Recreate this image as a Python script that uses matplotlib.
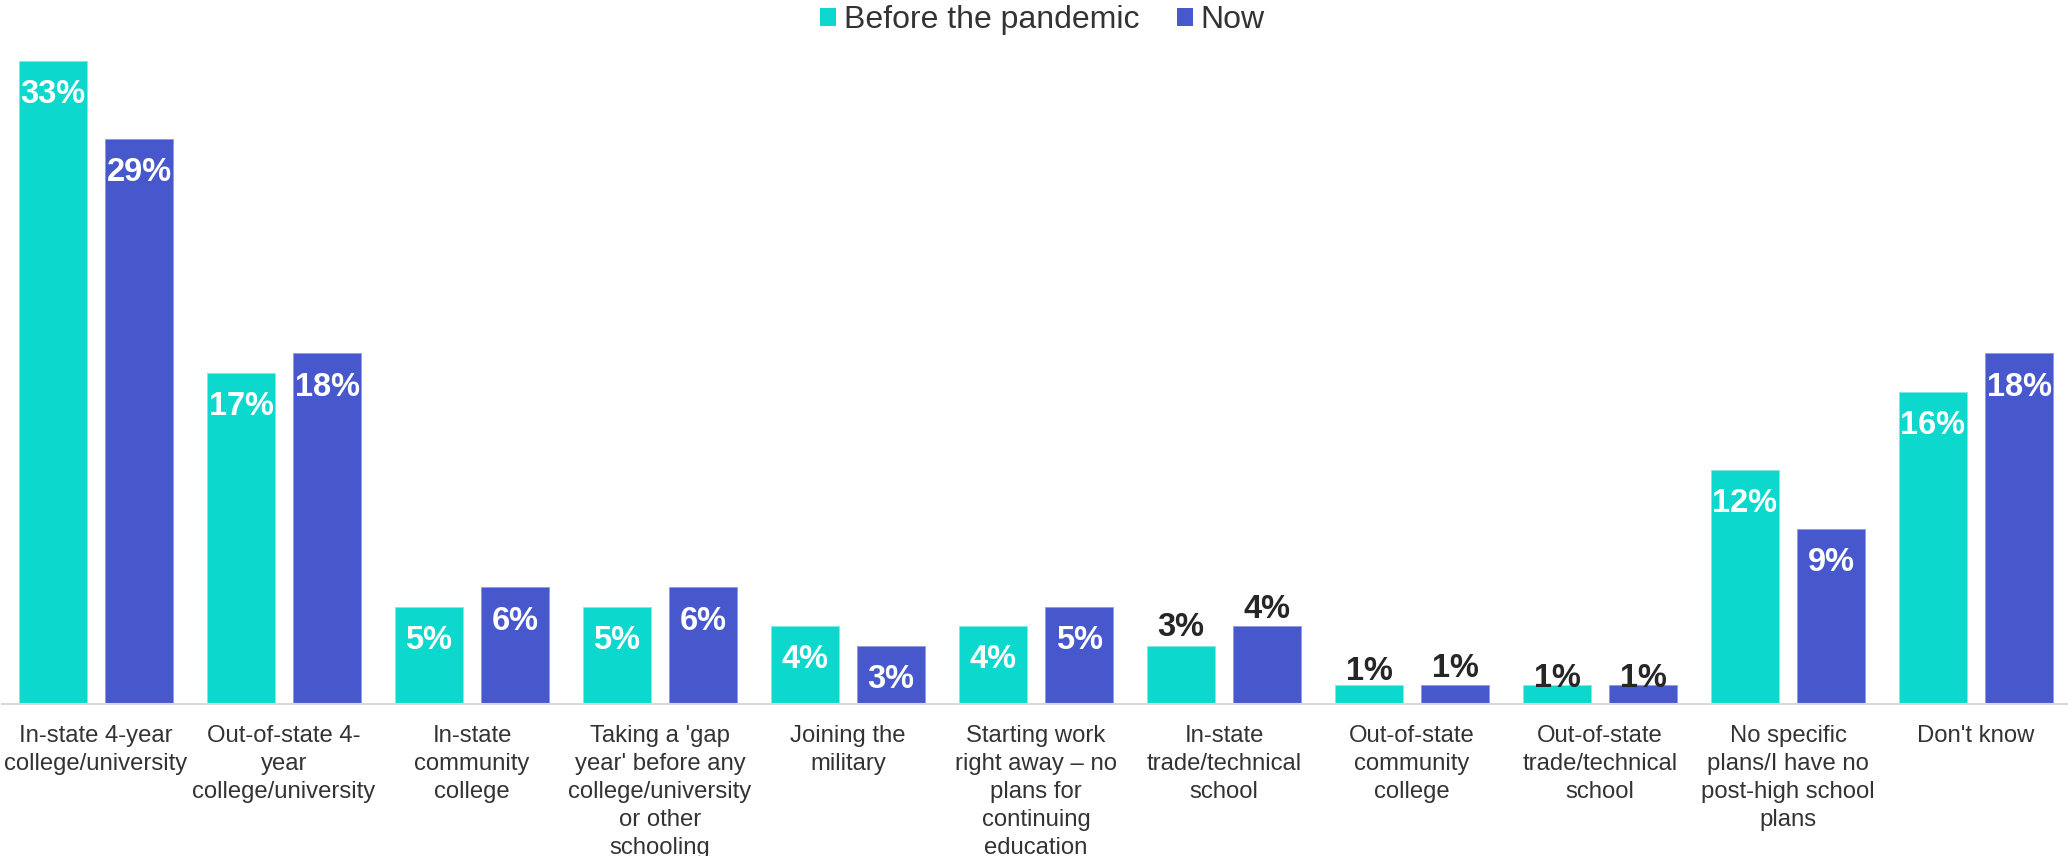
import matplotlib
matplotlib.use("Agg")
import matplotlib.pyplot as plt
import numpy as np
from matplotlib.patches import Patch

categories = [
    "In-state 4-year\ncollege/university",
    "Out-of-state 4-\nyear\ncollege/university",
    "In-state\ncommunity\ncollege",
    "Taking a 'gap\nyear' before any\ncollege/university\nor other\nschooling",
    "Joining the\nmilitary",
    "Starting work\nright away – no\nplans for\ncontinuing\neducation",
    "In-state\ntrade/technical\nschool",
    "Out-of-state\ncommunity\ncollege",
    "Out-of-state\ntrade/technical\nschool",
    "No specific\nplans/I have no\npost-high school\nplans",
    "Don't know",
]
before = [33, 17, 5, 5, 4, 4, 3, 1, 1, 12, 16]
now = [29, 18, 6, 6, 3, 5, 4, 1, 1, 9, 18]
series_names = ["Before the pandemic", "Now"]

TEAL = "#0DD8CE"
BLUE = "#4758CC"
DARK = "#262626"
TEXT = "#333333"
FAM = ["Liberation Sans", "DejaVu Sans"]

W, H, DPI = 2068, 856, 100
fig = plt.figure(figsize=(W / DPI, H / DPI), dpi=DPI)
base_px = 704
top_px = 20
ax = fig.add_axes([2 / W, (H - base_px) / H, 1.0, (base_px - top_px) / H])
px_per_unit = 19.5
ax.set_ylim(0, (base_px - top_px) / px_per_unit)
ax.set_xlim(-0.5, 10.5)

x = np.arange(len(categories))
bw = 0.362
off = 0.229
b1 = ax.bar(x - off, before, bw, color=TEAL, edgecolor="#7fe9e3", linewidth=0.6)
b2 = ax.bar(x + off, now, bw, color=BLUE, edgecolor="#8f9ae0", linewidth=0.6)

# label placement: outside labels (dark) with pixel offset above bar top
outside = {(0, 6): 18, (1, 6): 16, (0, 7): 13, (1, 7): 16, (0, 8): 6, (1, 8): 6}
for si, (bars, vals) in enumerate([(b1, before), (b2, now)]):
    for ci, (rect, v) in enumerate(zip(bars, vals)):
        cx = rect.get_x() + rect.get_width() / 2
        if (si, ci) in outside:
            ax.annotate(f"{v}%", (cx, v), xytext=(0, outside[(si, ci)]),
                        textcoords="offset pixels", ha="center", va="center",
                        fontsize=23.5, fontweight="bold", color=DARK, family=FAM)
        else:
            ax.annotate(f"{v}%", (cx, v), xytext=(0, -34),
                        textcoords="offset pixels", ha="center", va="center",
                        fontsize=23.5, fontweight="bold", color="white", family=FAM)

ax.set_xticks(x)
ax.set_xticklabels(categories, fontsize=17.2, color=TEXT, linespacing=1.36, family=FAM)
ax.tick_params(axis="x", length=0, pad=15)
ax.set_yticks([])
for s in ["top", "right", "left"]:
    ax.spines[s].set_visible(False)
ax.spines["bottom"].set_color("#d9d9d9")
ax.spines["bottom"].set_linewidth(1.5)

handles = [Patch(facecolor=TEAL, edgecolor="none"), Patch(facecolor=BLUE, edgecolor="none")]
fig.legend(handles, series_names, loc="center", bbox_to_anchor=(0.5 + 8.5 / W, 1 - 20 / H),
           ncol=2, frameon=False, handlelength=0.5, handleheight=0.5,
           handletextpad=0.25, columnspacing=1.15, borderaxespad=0,
           prop={"family": FAM, "size": 23}, labelcolor=TEXT)

fig.savefig("out.png", dpi=DPI)
